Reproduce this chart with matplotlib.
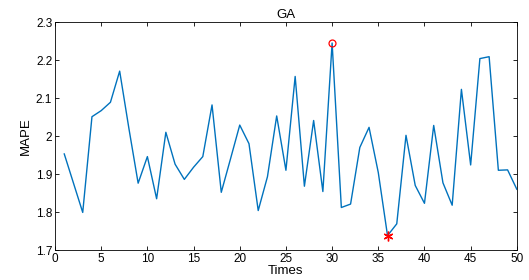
import numpy as np
import matplotlib.pyplot as plt

plt.rcParams['font.family'] = ['Liberation Sans', 'DejaVu Sans']

times = list(range(1, 51))
mape = [1.953, 1.876, 1.799, 2.051, 2.067, 2.089, 2.171, 2.020, 1.876, 1.946,
        1.835, 2.010, 1.926, 1.886, 1.918, 1.946, 2.082, 1.852, 1.940, 2.029,
        1.980, 1.804, 1.893, 2.053, 1.910, 2.157, 1.868, 2.041, 1.854, 2.245,
        1.812, 1.821, 1.970, 2.023, 1.904, 1.738, 1.769, 2.002, 1.870, 1.823,
        2.028, 1.877, 1.818, 2.123, 1.924, 2.204, 2.209, 1.910, 1.911, 1.860]

imax = int(np.argmax(mape))
imin = int(np.argmin(mape))

fig = plt.figure(figsize=(5.29, 2.8), dpi=100)
ax = fig.add_axes([0.104, 0.107, 0.873, 0.814])
ax.plot(times, mape, color="#0072BD", linewidth=1.0)
ax.plot(times[imax], mape[imax], marker="o", markersize=5, markerfacecolor="none",
        markeredgecolor="red", markeredgewidth=0.9, linestyle="none")
# matlab style '*' marker: six thin spokes
ax.plot(times[imin], mape[imin], marker=(6, 2, 0), markersize=7, color="red",
        markeredgewidth=1.0, linestyle="none")

ax.set_xlim(0, 50)
ax.set_ylim(1.7, 2.3)
ax.set_xticks(range(0, 51, 5))
ax.set_yticks([1.7, 1.8, 1.9, 2.0, 2.1, 2.2, 2.3])
ax.set_yticklabels(["1.7", "1.8", "1.9", "2", "2.1", "2.2", "2.3"])
ax.tick_params(direction="in", top=True, right=True, labelsize=8.5, length=3, width=0.6, pad=2)
for s in ax.spines.values():
    s.set_linewidth(0.6)
ax.set_title("GA", fontsize=9.5, pad=3)
ax.set_xlabel("Times", fontsize=9.5, labelpad=0)
ax.set_ylabel("MAPE", fontsize=9.5, labelpad=3)

plt.savefig("out.png", dpi=100)
